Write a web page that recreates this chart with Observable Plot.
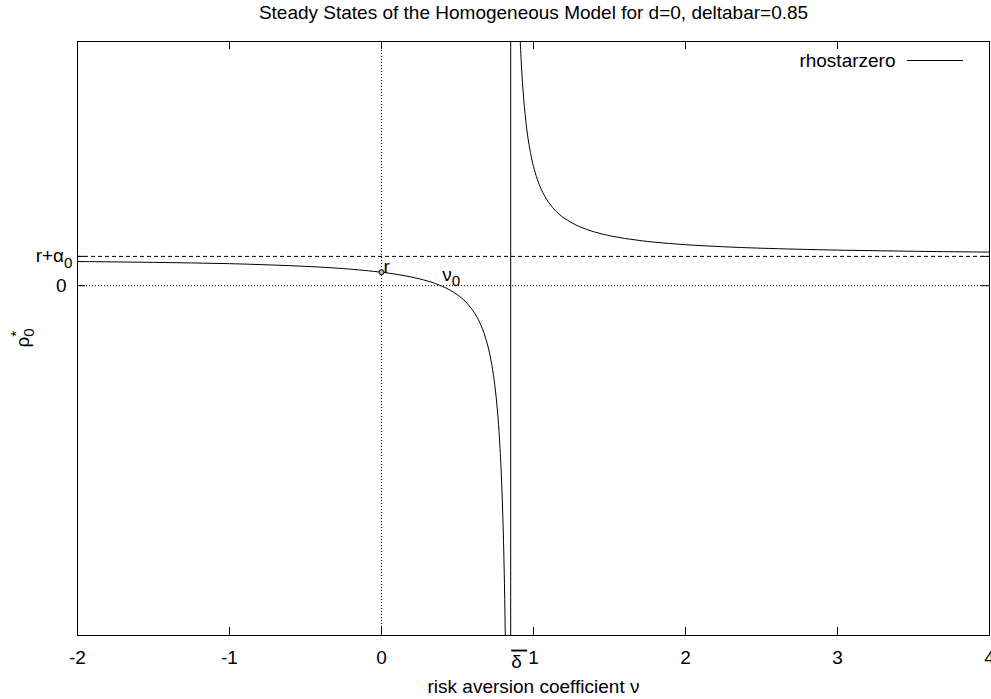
<!DOCTYPE html>
<html>
<head>
<meta charset="utf-8">
<script src="https://cdn.jsdelivr.net/npm/d3@7"></script>
<script src="https://cdn.jsdelivr.net/npm/@observablehq/plot@0.6"></script>
<style>
  html, body { margin: 0; padding: 0; background: #fff; overflow: hidden; }
  #wrap { position: relative; width: 991px; height: 699px; }
  #legendLine { position: absolute; left: 907px; top: 60px; width: 56px; height: 1px; background: #000; }
</style>
</head>
<body>
<div id="wrap"></div>
<script>
// ---- text ----
const titleText = "Steady States of the Homogeneous Model for d=0, deltabar=0.85";
const xLabel = "risk aversion coefficient ν";
const yLabel = "ρ_0^*";
const seriesName = "rhostarzero";

// ---- ticks & reference values ----
const xTicks = [-2, -1, 0, 1, 2, 3, 4];
const xTickLabels = ["-2", "-1", "0", "1", "2", "3", "4"];
const deltaBar = 0.85;
const deltaBarLabel = "δ\u2009\u200A";
const nu0 = 0.40;
const nu0Label = "ν_0";
const rValue = 0.46;
const rLabel = "r";
const rPlusAlpha0 = 1;
const yTickValues = [0, rPlusAlpha0];
const yTickLabels = ["0", "r+α_0"];
const yDomain = [-11.95, 8.34];
const xDomain = [-2, 4];

// ---- curve rhostarzero ----
const leftNu  = [-2, -1.5, -1, -0.5, -0.25, 0, 0.1, 0.2, 0.3, 0.35, 0.4, 0.45, 0.5, 0.55, 0.6, 0.625, 0.65, 0.675, 0.7, 0.72, 0.74, 0.75, 0.76, 0.77, 0.78, 0.785, 0.79, 0.795, 0.8, 0.805, 0.81, 0.815];
const leftRho = [0.825, 0.795, 0.751, 0.659, 0.582, 0.459, 0.387, 0.292, 0.164, 0.08, -0.022, -0.15, -0.314, -0.533, -0.84, -1.044, -1.3, -1.629, -2.067, -2.538, -3.182, -3.6, -4.111, -4.75, -5.571, -6.077, -6.667, -7.364, -8.2, -9.222, -10.5, -12.143];
const rightNu  = [0.91, 0.92, 0.93, 0.94, 0.95, 0.96, 0.97, 0.99, 1.0, 1.025, 1.05, 1.1, 1.15, 1.2, 1.3, 1.4, 1.5, 1.6, 1.7, 1.8, 2.0, 2.25, 2.5, 3.0, 3.5, 4.0];
const rightRho = [8.667, 7.571, 6.75, 6.111, 5.6, 5.182, 4.833, 4.286, 4.067, 3.629, 3.3, 2.84, 2.533, 2.314, 2.022, 1.836, 1.708, 1.613, 1.541, 1.484, 1.4, 1.329, 1.279, 1.214, 1.174, 1.146];

const curve = [
  ...leftNu.map((nu, i) => ({nu, rho: leftRho[i], branch: "left"})),
  ...rightNu.map((nu, i) => ({nu, rho: rightRho[i], branch: "right"}))
];

const FS = 19;
const W = 991, H = 699;
const mL = 77, mR = 2, mT = 41, mB = 64;
const plotW = W - mL - mR, plotH = H - mT - mB;
const tickLen = 8;

const svg = Plot.plot({
  width: W,
  height: H,
  marginLeft: mL,
  marginRight: mR,
  marginTop: mT,
  marginBottom: mB,
  style: {fontFamily: "'Liberation Sans', Arial, Helvetica, sans-serif", fontSize: FS + "px", background: "#fff", color: "#000"},
  x: {domain: xDomain, axis: null},
  y: {domain: yDomain, axis: null},
  marks: [
    // reference lines
    Plot.ruleX([0], {x: d => d, stroke: "#000", strokeDasharray: "1,2", strokeWidth: 1}),
    Plot.ruleY([0], {y: d => d, stroke: "#000", strokeDasharray: "1,2", strokeWidth: 1}),
    Plot.ruleY([rPlusAlpha0], {y: d => d, stroke: "#000", strokeDasharray: "4,3", strokeWidth: 1}),
    Plot.ruleX([deltaBar], {x: d => d, stroke: "#000", strokeWidth: 1}),
    // the curve
    Plot.line(curve, {x: "nu", y: "rho", z: "branch", stroke: "#000", strokeWidth: 1, curve: "catmull-rom", clip: true}),
    // point r
    Plot.dot([{nu: 0, rho: rValue}], {x: "nu", y: "rho", r: 2.5, stroke: "#000", fill: "#bbb", strokeWidth: 1}),
    Plot.text([{nu: 0, rho: rValue}], {x: "nu", y: "rho", text: () => rLabel, textAnchor: "start", lineAnchor: "middle", dx: 2, dy: -5, fontSize: FS}),
    Plot.text([{nu: nu0, rho: 0}], {x: "nu", y: "rho", text: () => nu0Label, textAnchor: "start", lineAnchor: "middle", dx: 0, dy: -11, fontSize: FS}),
    // frame
    Plot.frame({stroke: "#000", strokeWidth: 1}),
    // x ticks (inward, bottom & top mirror)
    Plot.tickX(xTicks, {x: d => d, stroke: "#000", insetTop: plotH - tickLen}),
    Plot.tickX(xTicks, {x: d => d, stroke: "#000", insetBottom: plotH - tickLen}),
    // y ticks (inward, left & right mirror)
    Plot.tickY(yTickValues, {y: d => d, stroke: "#000", insetRight: plotW - tickLen}),
    Plot.tickY(yTickValues, {y: d => d, stroke: "#000", insetLeft: plotW - tickLen}),
    // x tick labels
    Plot.text(xTicks, {x: d => d, text: (d, i) => xTickLabels[i], frameAnchor: "bottom", lineAnchor: "middle", dy: 22, fontSize: FS}),
    // delta bar label (overlined delta)
    Plot.text([deltaBar], {x: d => d, text: () => deltaBarLabel, frameAnchor: "bottom", textAnchor: "start", lineAnchor: "middle", dx: 0.5, dy: 26, fontSize: FS}),
    // y tick labels
    Plot.text([yTickValues[0]], {y: d => d, text: () => yTickLabels[0], frameAnchor: "left", textAnchor: "end", lineAnchor: "middle", dx: -11, fontSize: FS}),
    Plot.text([yTickValues[1]], {y: d => d, text: () => yTickLabels[1], frameAnchor: "left", textAnchor: "end", lineAnchor: "middle", dx: -5, fontSize: FS}),
    // axis labels
    Plot.text([xLabel], {frameAnchor: "bottom", lineAnchor: "middle", dy: 51, fontSize: FS}),
    Plot.text([yLabel], {frameAnchor: "left", rotate: -90, textAnchor: "start", lineAnchor: "middle", dx: -55, dy: 9, fontSize: FS}),
    // title
    Plot.text([titleText], {frameAnchor: "top", lineAnchor: "middle", dy: -29, fontSize: FS}),
    // legend label
    Plot.text([seriesName], {frameAnchor: "top-right", textAnchor: "end", lineAnchor: "middle", dx: -94, dy: 19.5, fontSize: FS})
  ]
});

const NS = "http://www.w3.org/2000/svg";
// rich text: "_x" subscript, "^x" superscript (stacked when following a subscript)
function richify(el, str, fs) {
  const toks = [];
  for (let i = 0; i < str.length; i++) {
    const c = str[i];
    if ((c === "_" || c === "^") && i + 1 < str.length) { toks.push({k: c, t: str[i + 1]}); i++; }
    else toks.push({k: "", t: c});
  }
  el.textContent = "";
  let shift = 0, prev = "";
  for (const tk of toks) {
    const ts = document.createElementNS(NS, "tspan");
    let target = 0, size = fs;
    if (tk.k === "_") { target = 0.3 * fs; size = 0.8 * fs; }
    else if (tk.k === "^") { target = -0.42 * fs; size = 0.8 * fs; }
    ts.setAttribute("dy", (target - shift).toFixed(2));
    if (tk.k === "^" && prev === "_") ts.setAttribute("dx", (-0.556 * 0.8 * fs).toFixed(2));
    ts.setAttribute("font-size", size);
    ts.textContent = tk.t;
    el.appendChild(ts);
    shift = target; prev = tk.k;
  }
}
d3.select(svg).selectAll("text").each(function () {
  const s = this.textContent;
  if (s === deltaBarLabel) {
    this.setAttribute("text-decoration", "overline");
    this.style.textDecoration = "overline";
    this.style.whiteSpace = "pre";
  } else if (/[_^]/.test(s)) richify(this, s, FS);
});

const wrap = document.getElementById("wrap");
wrap.appendChild(svg);
const ll = document.createElement("div");
ll.id = "legendLine";
wrap.appendChild(ll);
</script>
</body>
</html>
